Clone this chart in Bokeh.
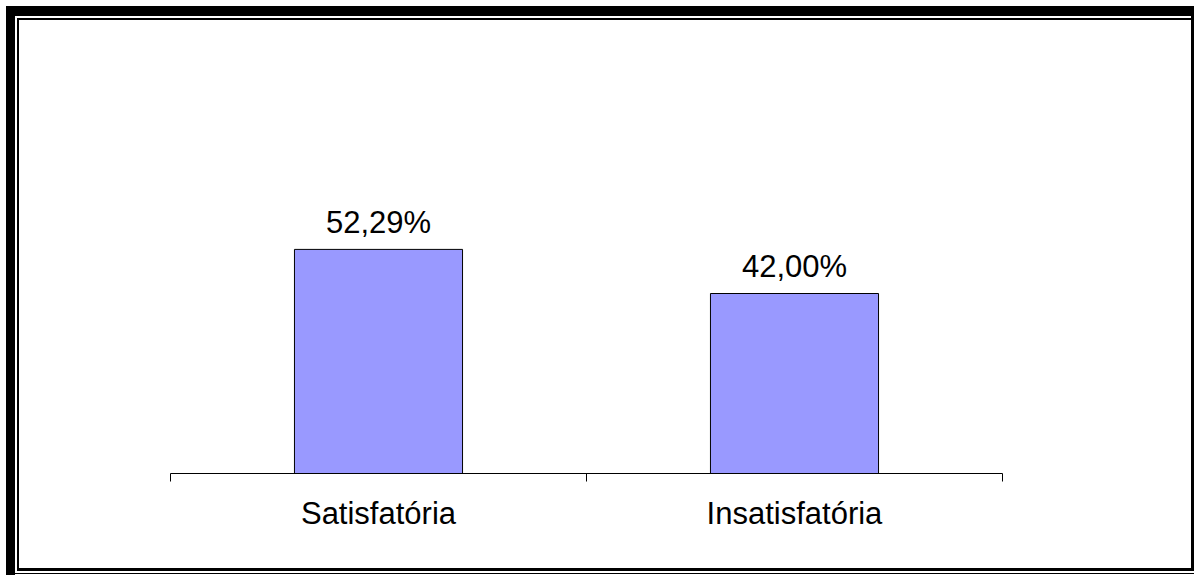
from bokeh.plotting import figure
from bokeh.models import Range1d, FixedTicker, ColumnDataSource
from bokeh.core.properties import value
from bokeh.embed import file_html
from bokeh.resources import INLINE

# Avaliação: share of answers per category
categories = ["Satisfatória", "Insatisfatória"]
percentages = [52.29, 42.00]
value_labels = ["52,29%", "42,00%"]

FONT = "Liberation Sans"
BAR_COLOR = "#9999FF"

positions = [i + 0.5 for i in range(len(categories))]
source = ColumnDataSource(dict(x=positions, top=percentages, label=value_labels))

# Chart frame drawn behind the (transparent) border area: heavy outer band
# along top/left, thin inner rule, and the lower/right edges.
frame_bands = [
    (6, 6, 1188, 10),     # top heavy band
    (6, 6, 9, 569),       # left heavy band
    (17, 18, 1175, 2),    # inner top rule
    (17, 18, 2, 553),     # inner left rule
    (1191, 6, 3, 565),    # right edge
    (17, 568, 1177, 3),   # bottom edge
    (6, 573, 1188, 1),    # bottom outer rule
]
frame_css = ", ".join(
    f"linear-gradient(#000, #000) {l}px {t}px / {w}px {h}px no-repeat"
    for l, t, w, h in frame_bands
)

p = figure(
    width=1194, height=575,
    x_range=Range1d(0, len(categories)),
    y_range=Range1d(0, 105.7),
    y_axis_location=None,
    output_backend="svg", toolbar_location=None,
    min_border_left=170, min_border_right=192,
    min_border_top=20, min_border_bottom=102,
    styles={"background": frame_css},
)
p.background_fill_color = "white"
p.border_fill_color = None
p.outline_line_color = None
p.xgrid.visible = False
p.ygrid.visible = False

p.vbar(x="x", top="top", bottom=0, width=0.404, source=source,
       fill_color=BAR_COLOR, line_color="black", line_width=1)

p.text(x="x", y="top", text="label", source=source,
       text_font=value(FONT), text_font_size="31px", text_color="black",
       text_align="center", text_baseline="alphabetic", y_offset=-27)

# Category axis: labels centred under bars, tick marks on the category boundaries
ax = p.xaxis[0]
ax.ticker = FixedTicker(ticks=positions, minor_ticks=list(range(len(categories) + 1)))
ax.major_label_overrides = {pos: cat for pos, cat in zip(positions, categories)}
ax.major_tick_line_color = None
ax.major_tick_out = 0
ax.major_tick_in = 0
ax.minor_tick_line_color = "black"
ax.minor_tick_out = 8
ax.minor_tick_in = 0
ax.axis_line_color = "black"
ax.axis_line_width = 1
ax.major_label_text_font = FONT
ax.major_label_text_font_size = "31px"
ax.major_label_text_color = "black"
ax.major_label_standoff = 14

open("out.html", "w").write(file_html(p, INLINE))
